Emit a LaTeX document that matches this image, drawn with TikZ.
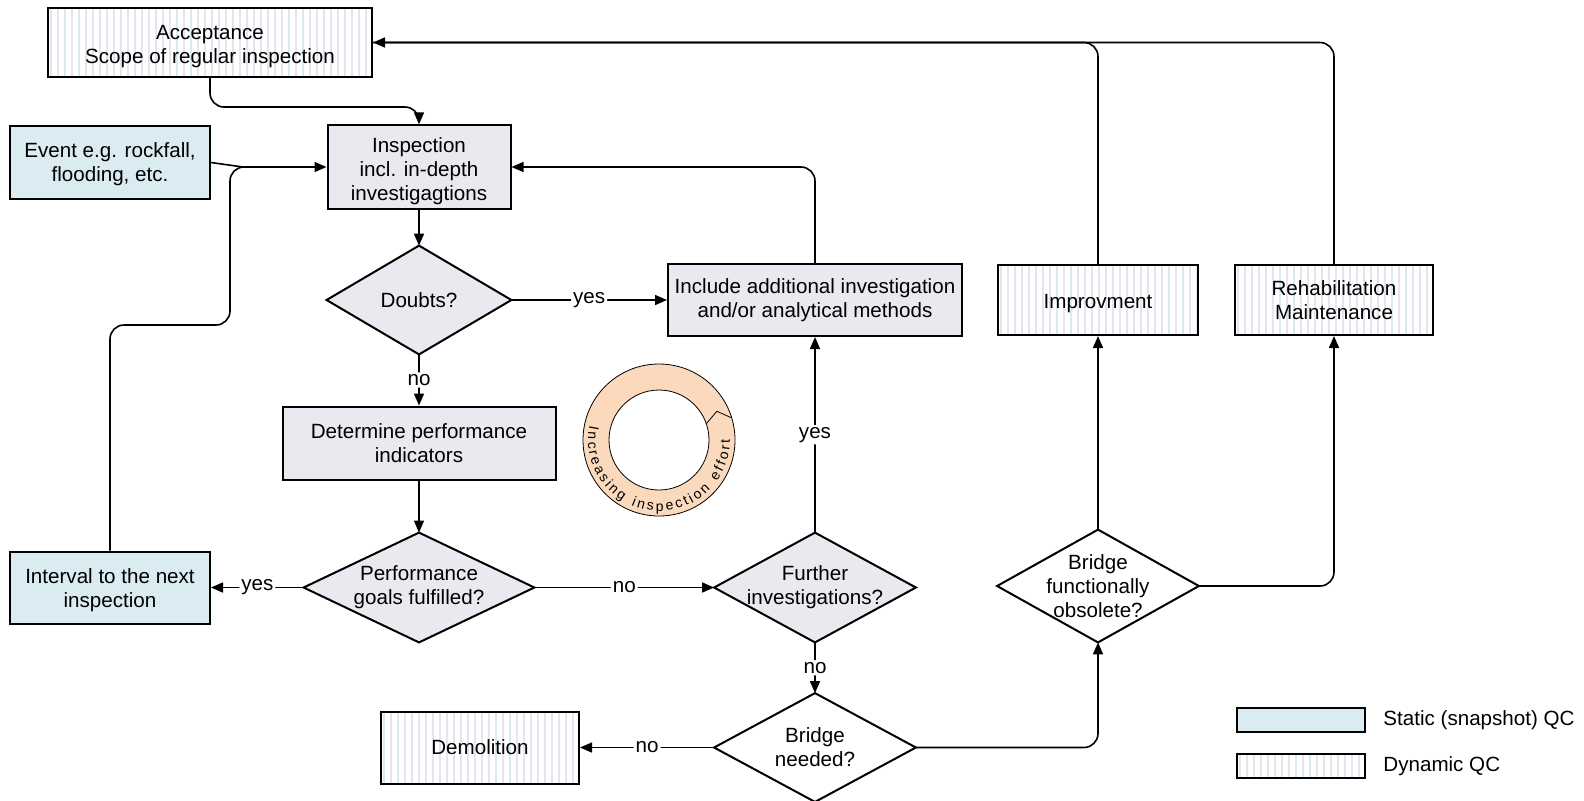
\documentclass[tikz,border=0pt]{standalone}
\usepackage{fontspec}
\setmainfont{Liberation Sans}
\usetikzlibrary{arrows.meta,backgrounds,calc}
\definecolor{staticfill}{RGB}{218,236,242}
\definecolor{procfill}{RGB}{235,232,240}
\definecolor{ringfill}{RGB}{250,217,188}
\definecolor{stripeA}{RGB}{220,233,241}
\definecolor{stripeB}{RGB}{230,229,238}
\tikzset{
  lbl/.style={font=\fontsize{10.3}{12}\selectfont, align=center},
  box/.style={lbl, draw, line width=1pt, rectangle, inner sep=2pt},
  proc/.style={box, fill=procfill},
  stat/.style={box, fill=staticfill},
  dyn/.style={box, fill=white, path picture={
      \foreach \k in {0,...,26}{
        \draw[line width=0.9pt, stripeA]
          ([xshift=\k*7pt+1.5pt]path picture bounding box.south west) --
          ([xshift=\k*7pt+1.5pt]path picture bounding box.north west);
        \draw[line width=0.9pt, stripeB]
          ([xshift=\k*7pt+5pt]path picture bounding box.south west) --
          ([xshift=\k*7pt+5pt]path picture bounding box.north west);
      }}},
  dec/.style={lbl, rectangle, inner sep=0pt},
  decline/.style={line width=1pt, line join=miter},
  link/.style={line width=0.8pt, rounded corners=7pt},
  conn/.style={link, -{Triangle[length=6pt,width=5pt]}},
  tag/.style={lbl, fill=white, inner sep=1pt},
  ringtxt/.style={font=\fontsize{7}{8}\selectfont, anchor=base, inner sep=0pt},
}
% first-line strut that lowers a text block inside its box
\newcommand{\lowerby}[1]{\rule{0pt}{#1}}
\begin{document}
\begin{tikzpicture}[x=0.5pt, y=-0.5pt]
\begin{scope}[on background layer]
  \fill[white] (0,0) rectangle (1584,800);
\end{scope}
\useasboundingbox (0,0) rectangle (1584,800);

% boxes
\node[dyn, minimum width=162pt, minimum height=34.5pt] (acc) at (210,42.5) {\lowerby{11.5pt}Acceptance\\Scope of regular inspection};
\node[stat, minimum width=100pt, minimum height=36.5pt] (event) at (110,162.5) {\lowerby{9.5pt}Event e.g. rockfall,\\flooding, etc.};
\node[proc, minimum width=91.5pt, minimum height=38pt] (insp) at (419,167) {\lowerby{11.5pt}Inspection\\incl. in-depth\\investigagtions};
\node[proc, minimum width=147pt, minimum height=36pt] (incl) at (815,300) {Include additional investigation\\and/or analytical methods};
\node[proc, minimum width=136.5pt, minimum height=36.5pt] (det) at (419,443) {Determine performance\\indicators};
\node[stat, minimum width=100pt, minimum height=36pt] (int) at (110,587.5) {\lowerby{10.5pt}Interval to the next\\inspection};
\node[dyn, minimum width=99pt, minimum height=36pt] (demol) at (480,747.5) {Demolition};
\node[dyn, minimum width=100pt, minimum height=35pt] (impr) at (1098,300) {\lowerby{10.4pt}Improvment};
\node[dyn, minimum width=99pt, minimum height=35pt] (rehab) at (1334,300) {Rehabilitation\\Maintenance};

% decisions
\node[dec, minimum width=92pt, minimum height=54pt] (doubts) at (419,300) {Doubts?};
\node[dec, minimum width=115pt, minimum height=54.5pt] (perf) at (419,587.5) {Performance\\goals fulfilled?};
\node[dec, minimum width=100.5pt, minimum height=54.5pt] (further) at (815,587.5) {Further\\investigations?};
\node[dec, minimum width=100.5pt, minimum height=54pt] (needed) at (815,747.5) {Bridge\\needed?};
\node[dec, minimum width=100.5pt, minimum height=56pt] (obsolete) at (1098,586) {Bridge\\functionally\\obsolete?};
\begin{scope}[on background layer]
  \foreach \d/\f in {doubts/procfill, perf/procfill, further/procfill, needed/white, obsolete/white}
    \draw[decline, fill=\f] (\d.north) -- (\d.east) -- (\d.south) -- (\d.west) -- cycle;
\end{scope}

% legend
\node[stat, minimum width=64pt, minimum height=12pt] (legS) at (1301,720) {};
\node[dyn, minimum width=64pt, minimum height=12pt] (legD) at (1301,766) {};
\node[lbl, anchor=west, inner sep=0pt] (legSt) at (1383,720) {Static (snapshot) QC};
\node[lbl, anchor=west, inner sep=0pt] (legDt) at (1383,766) {Dynamic QC};

% connectors
\coordinate (merge) at (243,167);
\draw[conn] (acc.south) -- ++(0,29) -| (insp.north);
\draw[link] (event.east) -- (merge);
\draw[conn] (int.north) |- (230,325) |- (insp.west);
\draw[conn] (insp.south) -- (doubts.north);
\draw[conn] (doubts.east) -- node[tag] {yes} (incl.west);
\draw[conn] (incl.north) |- (insp.east);
\draw[conn] (doubts.south) -- node[tag] {no} (det.north);
\draw[conn] (det.south) -- (perf.north);
\draw[conn] (perf.west) -- node[tag] {yes} (int.east);
\draw[conn] (perf.east) -- node[tag] {no} (further.west);
\draw[conn] (further.north) -- node[tag] {yes} (incl.south);
\draw[conn] (further.south) -- node[tag] {no} (needed.north);
\draw[conn] (needed.west) -- node[tag] {no} (demol.east);
\draw[conn] (needed.east) -| (obsolete.south);
\draw[conn] (obsolete.north) -- (impr.south);
\draw[conn] (obsolete.east) -| (rehab.south);
\draw[link] (impr.north) |- (acc.east);
\draw[conn] (rehab.north) |- (acc.east);

% effort ring with its circular caption
\begin{scope}[shift={(659,440)}, x=1pt, y=1pt]
  \fill[ringfill, even odd rule] (0,0) circle (38pt) (0,0) circle (25pt);
  \draw[line width=0.4pt] (0,0) circle (38pt) (0,0) circle (25pt);
  \draw[line width=0.4pt] (19:25pt) -- (26.4:32.3pt) -- (16.9:38pt);
  \gdef\ringpos{0}
  \foreach \ch/\w/\sp [count=\i] in {I/278/0, n/556/0, c/500/0, r/333/0, e/556/0,
      a/556/0, s/500/0, i/222/0, n/556/0, g/556/0,
      i/222/500, n/556/0, s/500/0, p/556/0, e/556/0, c/500/0, t/278/0,
      i/222/0, o/556/0, n/556/0,
      e/556/500, f/278/0, f/278/0, o/556/0, r/333/0, t/278/0}{
    \pgfmathsetmacro\c{\ringpos + \sp*0.007 + \w*0.0035}
    \pgfmathsetmacro\a{168 + \c*1.614}
    \node[ringtxt, rotate=\a+90] (rc\i) at (\a:35.5pt) {\ch};
    \pgfmathsetmacro\nxt{\ringpos + \sp*0.007 + \w*0.007 + 1.3}
    \xdef\ringpos{\nxt}
  }
\end{scope}
\end{tikzpicture}
\end{document}
